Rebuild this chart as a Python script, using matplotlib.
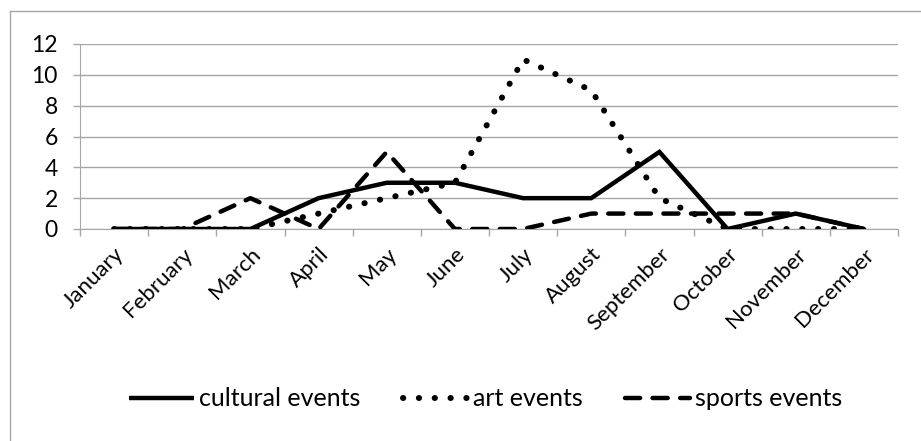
# events per month, line chart

#####################################################################

# LIBRARIES

from matplotlib import rcParams
from matplotlib.pyplot import figure
from matplotlib.lines import Line2D

#####################################################################

# DATA

months = ["January", "February", "March", "April", "May", "June",
          "July", "August", "September", "October", "November", "December"]

cultural = [0, 0, 0, 2, 3, 3, 2, 2, 5, 0, 1, 0]
art      = [0, 0, 0, 1, 2, 3, 11, 9, 2, 0, 0, 0]
sports   = [0, 0, 2, 0, 5, 0, 0, 1, 1, 1, 1, 0]

yticks = [0, 2, 4, 6, 8, 10, 12]

#####################################################################

# STYLE

rcParams["font.family"] = ["Lato", "DejaVu Sans"]

grey = "#a6a6a6"
lw   = 3.2     # solid and dashed lines
dw   = 4.3     # dotted line (round dots)

#####################################################################

# FIGURE

fg = figure(figsize = (9.21, 4.41), dpi = 100)
fg.patch.set_facecolor("white")

# outer frame (only top and left edge visible in the crop)
fg.add_artist(Line2D([9.5/921, 1.0], [1-10.5/441, 1-10.5/441],
    transform = fg.transFigure, color = grey, linewidth = 1.0))
fg.add_artist(Line2D([9.5/921, 9.5/921], [0.0, 1-10.5/441],
    transform = fg.transFigure, color = grey, linewidth = 1.0))

x0, x1 = 80/921, 898/921
y0, y1 = 1-229/441, 1-44/441
ax = fg.add_axes([x0, y0, x1-x0, y1-y0])

x = list(range(len(months)))

# plot data
ax.plot(x, cultural, color = "black", linewidth = lw,
    solid_joinstyle = "miter", solid_capstyle = "butt",
    label = "cultural events", zorder = 3)
ax.plot(x, art, color = "black", linewidth = dw,
    linestyle = (0, (0.05, 2.6)), dash_capstyle = "round",
    label = "art events", zorder = 3)
ax.plot(x, sports, color = "black", linewidth = lw,
    linestyle = (0, (3.4, 2.8)), dash_capstyle = "round",
    label = "sports events", zorder = 3)

# axes limits
ax.set_xlim(-0.5, len(months)-0.5)
ax.set_ylim(0, 12)

# y axis
ax.set_yticks(yticks)
ax.yaxis.grid(True, color = grey, linewidth = 1.0)
ax.set_axisbelow(True)
ax.tick_params(axis = "y", length = 5, color = grey, width = 1.0,
    labelsize = 16.5, pad = 11)

# x axis: ticks at the category boundaries, labels at the centres
ax.set_xticks([i-0.5 for i in range(len(months)+1)])
ax.set_xticklabels([])
ax.set_xticks(x, minor = True)
ax.set_xticklabels(months, minor = True, rotation = 45,
    ha = "right", va = "top", rotation_mode = "anchor")
ax.tick_params(axis = "x", which = "major", length = 5, color = grey,
    width = 1.0, direction = "out")
ax.tick_params(axis = "x", which = "minor", length = 0,
    labelsize = 16, pad = 11)

for side in ["top", "right"]:
    ax.spines[side].set_visible(False)
ax.spines["left"].set_color(grey)
ax.spines["bottom"].set_color(grey)

# legend
fg.legend(loc = "center", bbox_to_anchor = (486/921, 1-399/441),
    ncol = 3, frameon = False, fontsize = 18,
    handlelength = 2.6, columnspacing = 1.7, handletextpad = 0.2)

fg.savefig("out.png", dpi = 100, facecolor = "white")
